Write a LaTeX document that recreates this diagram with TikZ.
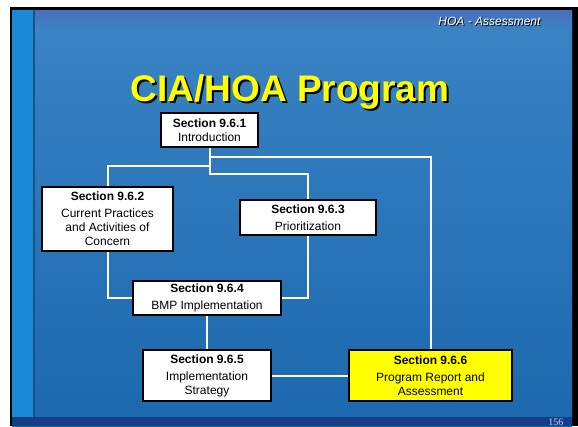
\documentclass[tikz,border=0pt]{standalone}
\usepackage{fontspec}
\setmainfont{Liberation Sans}
\newfontfamily\pagefont{Liberation Serif}
\usetikzlibrary{positioning,calc}
\definecolor{slideband}{HTML}{4A6FB8}
\definecolor{slidetop}{HTML}{3A84C4}
\definecolor{slidemid}{HTML}{3890D0}
\definecolor{slidebot}{HTML}{1C68AE}
\definecolor{slideedge}{HTML}{1A8AD6}
\definecolor{slidefoot}{HTML}{133F86}
\definecolor{titleyellow}{HTML}{FFFF00}
\definecolor{pagegray}{HTML}{C9D7E6}

\tikzset{
  secbox/.style={draw=black, line width=2.5pt, fill=white, align=center,
    font=\fontsize{12}{14}\selectfont, inner sep=1pt},
  link/.style={draw=white, line width=2pt},
}

\begin{document}
\begin{tikzpicture}[x=1pt, y=-1pt]
        \useasboundingbox (0,0) rectangle (578,426);
        % slide background
        \fill[black] (10,7) rectangle (578,426);
        \shade[top color=slidetop, middle color=slidemid, bottom color=slidebot] (12,10) rectangle (572,426);
        \shade[top color=slideband, bottom color=slidetop] (33,10) rectangle (572,30);
        \fill[slideedge] (12,10) rectangle (33,426);
        \fill[slidebot!80!black] (33,10) rectangle (35,426);
        \fill[slidefoot] (12,417) rectangle (572,426);
        \node[anchor=base east, font=\pagefont\fontsize{10}{10}\selectfont, pagegray] (pagenum) at (567,425) {156};
        % header and title
        \node[anchor=base east, font=\itshape\fontsize{12}{12}\selectfont, black] (headshadow) at (545,26) {HOA - Assessment};
        \node[anchor=base east, font=\itshape\fontsize{12}{12}\selectfont, white] (head) at (544,25) {HOA - Assessment};
        \node[anchor=base, font=\bfseries\fontsize{37}{40}\selectfont, black] (titleshadow) at (292,103) {CIA/HOA Program};
        \node[anchor=base, font=\bfseries\fontsize{37}{40}\selectfont, titleyellow] (title) at (290,101) {CIA/HOA Program};
        % sections
        \node[secbox, minimum width=97, minimum height=34] (sec1) at (209.5,130) {\textbf{Section 9.6.1}\\Introduction};
        \node[secbox, minimum width=131, minimum height=64] (sec2) at (107.5,219) {\textbf{Section 9.6.2}\\[3pt]Current Practices\\and Activities of\\Concern};
        \node[secbox, minimum width=136, minimum height=35] (sec3) at (308,217.5) {\textbf{Section 9.6.3}\\[3pt]Prioritization};
        \node[secbox, minimum width=148, minimum height=34] (sec4) at (207,298) {\textbf{Section 9.6.4}\\[3pt]BMP Implementation};
        \node[secbox, minimum width=128, minimum height=51] (sec5) at (207,375.5) {\textbf{Section 9.6.5}\\[3pt]Implementation\\Strategy};
        \node[secbox, minimum width=163, minimum height=51, fill=titleyellow] (sec6) at (430.5,375.5) {\textbf{Section 9.6.6}\\[3pt]Program Report and\\Assessment};
        % connectors
        \draw[link] (sec1.south) -- ++(0,26) -| (sec3.north);
        \draw[link] ([yshift=-18pt]sec1.south) -| (sec2.north);
        \draw[link] ([yshift=-9pt]sec1.south) -| (sec6.north);
        \draw[link] (sec2.south) |- (sec4.west);
        \draw[link] (sec3.south) |- (sec4.east);
        \draw[link] (sec4.south) -- (sec5.north);
        \draw[link] (sec5.east) -- (sec6.west);
      \end{tikzpicture}
\end{document}
